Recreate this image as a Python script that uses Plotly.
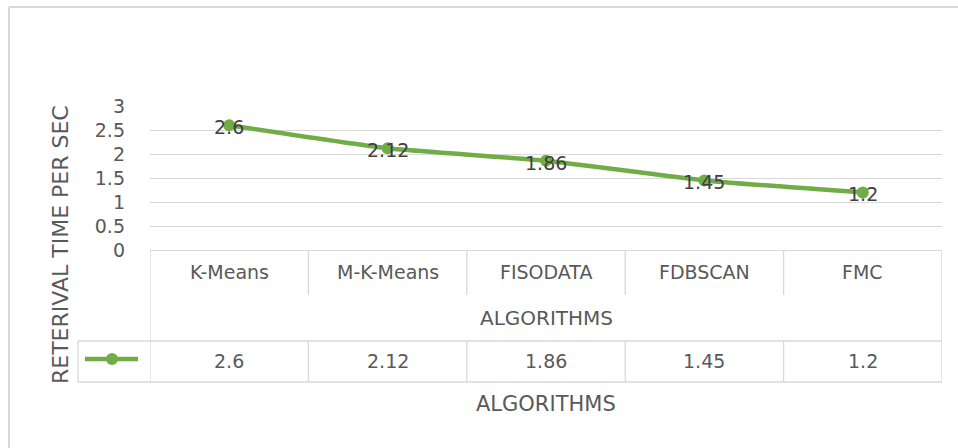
import plotly.graph_objects as go

categories = ["K-Means", "M-K-Means", "FISODATA", "FDBSCAN", "FMC"]
values = [2.6, 2.12, 1.86, 1.45, 1.2]
y_ticks = [0, 0.5, 1, 1.5, 2, 2.5, 3]
y_title = "RETERIVAL TIME PER SEC"
x_title = "ALGORITHMS"

W, H = 958, 448
L, R, T, B = 150, 16, 106, 198
PW = W - L - R
PH = H - T - B
GREEN = "#70AD47"
GRID = "#D9D9D9"
TXT = "#595959"
FONT = "'DejaVu Sans', sans-serif"


def px(xp):
    return (xp - L) / PW


def py(yp):
    return (H - B - yp) / PH


fig = go.Figure()
fig.add_trace(go.Scatter(
    x=categories, y=values, mode="lines+markers",
    line=dict(color=GREEN, width=4.5, shape="spline", smoothing=0.4),
    marker=dict(color=GREEN, size=12),
    showlegend=False, hoverinfo="skip",
))

shapes = []
ann = []


def hline(x0, x1, yp, xref="paper"):
    shapes.append(dict(type="line", xref=xref, yref="paper", x0=x0, x1=x1,
                       y0=py(yp), y1=py(yp), line=dict(color=GRID, width=1.3)))


def vline(x, y0, y1, xref="x"):
    shapes.append(dict(type="line", xref=xref, yref="paper", x0=x, x1=x,
                       y0=py(y0), y1=py(y1), line=dict(color=GRID, width=1.3)))


def label(x, xref, yp, text, size, angle=0):
    ann.append(dict(x=x, xref=xref, y=py(yp), yref="paper", text=text, showarrow=False,
                    xanchor="center", yanchor="middle", textangle=angle,
                    font=dict(family=FONT, size=size, color=TXT)))


n = len(categories)
# data labels
for c, v in zip(categories, values):
    ann.append(dict(x=c, xref="x", y=v, yref="y", text=str(v), showarrow=False,
                    xanchor="center", yanchor="middle", yshift=-2,
                    font=dict(family=FONT, size=19, color="#404040")))

# table structure
hline(px(78), 1, 341)
hline(px(78), 1, 382)
vline(px(78), 341, 382, xref="paper")
vline(-0.5, 250, 382)
vline(n - 0.5, 250, 382)
for i in range(1, n):
    vline(i - 0.5, 250, 295)
    vline(i - 0.5, 341, 382)

# legend key
shapes.append(dict(type="line", xref="paper", yref="paper", x0=px(85), x1=px(138),
                   y0=py(359), y1=py(359), line=dict(color=GREEN, width=4.5)))
shapes.append(dict(type="circle", xref="paper", yref="paper", x0=px(106), x1=px(118),
                   y0=py(353), y1=py(365), fillcolor=GREEN, line=dict(color=GREEN, width=0)))

# outer chart border
shapes.append(dict(type="line", xref="paper", yref="paper", x0=px(9), x1=px(958),
                   y0=py(7), y1=py(7), line=dict(color="#D9D9D9", width=2)))
shapes.append(dict(type="line", xref="paper", yref="paper", x0=px(9), x1=px(9),
                   y0=py(7), y1=py(448), line=dict(color="#D9D9D9", width=2)))

for c, v in zip(categories, values):
    label(c, "x", 272, c, 19)
    label(c, "x", 361, str(v), 19)

label(0.5, "paper", 318, x_title, 20)
label(0.5, "paper", 404, x_title, 21)
label(px(60), "paper", 245, y_title, 22, angle=-90)

fig.update_layout(
    width=W, height=H,
    margin=dict(l=L, r=R, t=T, b=B),
    paper_bgcolor="white", plot_bgcolor="white",
    shapes=shapes, annotations=ann,
    xaxis=dict(range=[-0.5, n - 0.5], showticklabels=False, showgrid=False,
               zeroline=False, showline=True, linecolor=GRID, linewidth=1.3,
               fixedrange=True),
    yaxis=dict(range=[0, 3], tickvals=y_ticks, showgrid=True, gridcolor=GRID,
               gridwidth=1.3, zeroline=False, showline=False,
               tickfont=dict(family=FONT, size=19, color=TXT),
               ticklabelstandoff=24, fixedrange=True),
    font=dict(family=FONT),
)

fig.write_html("out.html", config=dict(displayModeBar=False),
               post_script="document.body.style.margin='0';")
